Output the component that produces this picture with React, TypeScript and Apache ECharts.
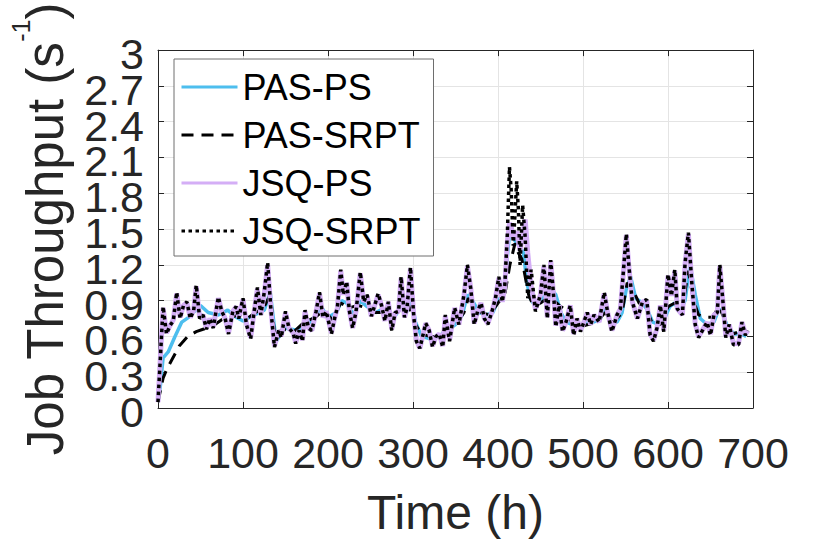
import React, { useEffect, useRef } from 'react';
import * as echarts from 'echarts';

const FONT = '"Liberation Sans", Arial, Helvetica, sans-serif';

// JSQ series (shared time base, hours)
const jsqTime = [
  0, 3, 6, 10, 14, 18, 22, 26, 30, 34,
  38, 42, 45, 49, 53, 57, 61, 65, 71, 75,
  79, 83, 88, 92, 95, 100, 104, 109, 112, 117,
  121, 125, 129, 133, 137, 142, 145, 150, 154, 159,
  162, 166, 170, 173, 177, 181, 186, 190, 194, 198,
  204, 208, 211, 215, 218, 222, 225, 229, 233, 238,
  242, 246, 251, 255, 259, 263, 267, 271, 275, 279,
  283, 286, 290, 293, 297, 301, 304, 308, 311, 315,
  319, 323, 327, 331, 335, 338, 343, 349, 354, 360,
  364, 368, 372, 376, 380, 384, 388, 393, 397, 401,
  405, 408, 411, 413.5, 415.5, 418, 422, 424, 426, 429,
  432, 435, 439, 444, 450, 454, 458, 462, 466, 468,
  472, 476, 480, 485, 489, 493, 497, 500, 505, 509,
  513, 519, 525, 529, 534, 540, 544, 548, 551, 554,
  558, 564, 570, 575, 579, 583, 587, 591, 595, 600,
  604, 608, 611, 617, 620, 624, 628, 632, 636, 642,
  646, 650, 654, 658, 661, 665, 668, 672, 677, 683,
  687, 691, 694,
];

const jsqSrpt = [
  0.05, 0.45, 0.85, 0.62, 0.69, 0.73, 0.97, 0.75, 0.86, 0.89,
  0.75, 0.82, 1.03, 0.75, 0.78, 0.66, 0.75, 0.67, 0.93, 0.81,
  0.75, 0.62, 0.81, 0.85, 0.75, 0.92, 0.70, 0.58, 0.75, 1.01,
  0.78, 0.97, 1.22, 0.81, 0.51, 0.65, 0.59, 0.81, 0.67, 0.63,
  0.54, 0.65, 0.56, 0.82, 0.67, 0.65, 0.81, 0.97, 0.76, 0.81,
  0.62, 0.76, 0.84, 1.16, 0.95, 1.06, 0.82, 0.67, 0.81, 1.14,
  0.89, 0.95, 0.77, 0.86, 0.96, 0.86, 0.73, 0.89, 0.65, 0.80,
  0.81, 1.10, 0.76, 0.84, 1.18, 0.76, 0.56, 0.50, 0.59, 0.71,
  0.65, 0.51, 0.60, 0.62, 0.51, 0.78, 0.56, 0.84, 0.70, 0.95,
  1.20, 1.00, 0.70, 0.81, 0.88, 0.75, 0.70, 0.81, 0.92, 1.10,
  0.89, 1.03, 1.46, 2.02, 1.83, 1.36, 1.90, 1.66, 1.20, 1.70,
  1.43, 0.92, 1.16, 0.81, 0.95, 1.20, 0.75, 1.24, 0.89, 0.68,
  0.86, 0.64, 0.72, 0.86, 0.61, 0.75, 0.64, 0.70, 0.80, 0.70,
  0.78, 0.72, 0.97, 0.80, 0.64, 0.78, 0.83, 1.19, 1.46, 1.19,
  0.89, 0.75, 0.89, 0.91, 0.61, 0.56, 0.67, 0.86, 0.64, 1.12,
  0.94, 1.16, 0.83, 0.78, 1.21, 1.47, 1.05, 0.70, 0.59, 0.67,
  0.72, 0.61, 0.78, 0.80, 1.20, 0.86, 0.59, 0.70, 0.53, 0.53,
  0.72, 0.61, 0.65,
];

const jsqPs = [
  0.05, 0.45, 0.84, 0.63, 0.69, 0.74, 0.96, 0.76, 0.86, 0.88,
  0.76, 0.82, 1.02, 0.76, 0.78, 0.67, 0.75, 0.68, 0.92, 0.81,
  0.75, 0.63, 0.81, 0.85, 0.76, 0.91, 0.71, 0.59, 0.75, 1.00,
  0.78, 0.96, 1.20, 0.81, 0.52, 0.65, 0.60, 0.80, 0.67, 0.63,
  0.55, 0.65, 0.57, 0.81, 0.67, 0.65, 0.81, 0.96, 0.76, 0.81,
  0.63, 0.76, 0.84, 1.15, 0.95, 1.05, 0.82, 0.67, 0.81, 1.13,
  0.89, 0.94, 0.77, 0.86, 0.95, 0.86, 0.73, 0.89, 0.66, 0.80,
  0.81, 1.09, 0.76, 0.84, 1.17, 0.76, 0.57, 0.50, 0.59, 0.71,
  0.65, 0.52, 0.60, 0.62, 0.52, 0.77, 0.57, 0.84, 0.70, 0.94,
  1.19, 1.00, 0.71, 0.81, 0.88, 0.75, 0.71, 0.81, 0.92, 1.09,
  0.89, 1.02, 1.40, 1.55, 1.52, 1.42, 1.48, 1.40, 1.32, 1.45,
  1.58, 1.30, 1.02, 0.83, 0.95, 1.19, 0.76, 1.23, 0.89, 0.69,
  0.86, 0.65, 0.72, 0.86, 0.62, 0.75, 0.65, 0.70, 0.80, 0.70,
  0.78, 0.72, 0.96, 0.80, 0.65, 0.78, 0.83, 1.18, 1.45, 1.18,
  0.89, 0.75, 0.89, 0.90, 0.62, 0.57, 0.67, 0.86, 0.65, 1.11,
  0.94, 1.15, 0.83, 0.78, 1.20, 1.46, 1.05, 0.71, 0.60, 0.67,
  0.72, 0.62, 0.78, 0.80, 1.19, 0.86, 0.60, 0.70, 0.54, 0.54,
  0.72, 0.62, 0.65,
];

// PAS-PS
const pasPsTime = [
  0, 3, 6, 12, 20, 28, 36, 43, 50, 59,
  71, 82, 90, 100, 110, 125, 132, 139, 149, 165,
  176, 186, 192, 200, 210, 216, 222, 230, 238, 246,
  256, 262, 270, 278, 286, 292, 298, 303, 310, 320,
  330, 340, 350, 358, 364, 370, 378, 386, 394, 400,
  406, 410, 414, 420, 426, 430, 434, 438, 444, 450,
  456, 462, 468, 474, 480, 488, 496, 504, 512, 520,
  526, 532, 540, 546, 551, 556, 562, 570, 576, 582,
  590, 596, 602, 608, 614, 620, 626, 632, 638, 646,
  654, 660, 664, 670, 678, 686, 692,
];
const pasPs = [
  0.05, 0.20, 0.42, 0.47, 0.60, 0.72, 0.76, 0.81, 0.86, 0.80,
  0.78, 0.82, 0.77, 0.73, 0.77, 0.82, 0.97, 0.56, 0.67, 0.65,
  0.70, 0.78, 0.85, 0.76, 0.80, 0.90, 0.88, 0.78, 0.90, 0.85,
  0.80, 0.82, 0.78, 0.76, 0.85, 0.80, 0.92, 0.72, 0.60, 0.58,
  0.60, 0.65, 0.70, 0.78, 0.95, 0.90, 0.80, 0.78, 0.80, 0.90,
  0.95, 1.20, 1.49, 1.40, 1.35, 1.30, 1.05, 0.92, 0.85, 0.90,
  0.95, 1.00, 0.95, 0.80, 0.72, 0.70, 0.68, 0.72, 0.72, 0.74,
  0.85, 0.72, 0.72, 0.80, 1.00, 1.10, 0.92, 0.88, 0.82, 0.72,
  0.70, 0.75, 0.85, 0.88, 0.80, 0.90, 1.20, 0.95, 0.75, 0.70,
  0.72, 0.83, 0.80, 0.68, 0.62, 0.62, 0.60,
];

// PAS-SRPT
const pasSrptTime = [
  0, 3, 6, 10, 16, 25, 35, 45, 53, 63,
  75, 85, 95, 105, 115, 125, 132, 138, 148, 160,
  172, 185, 195, 205, 215, 225, 235, 245, 255, 265,
  275, 285, 295, 303, 310, 320, 330, 340, 350, 360,
  365, 372, 380, 390, 400, 408, 414, 420, 424, 428,
  432, 436, 442, 450, 458, 466, 472, 480, 488, 496,
  506, 516, 526, 536, 546, 552, 558, 566, 574, 582,
  592, 600, 608, 616, 624, 630, 636, 644, 652, 660,
  668, 676, 684, 692,
];
const pasSrpt = [
  0.05, 0.15, 0.25, 0.32, 0.40, 0.52, 0.60, 0.64, 0.66, 0.68,
  0.74, 0.76, 0.78, 0.75, 0.80, 0.85, 0.95, 0.58, 0.66, 0.64,
  0.72, 0.76, 0.82, 0.74, 0.88, 0.84, 0.86, 0.84, 0.80, 0.80,
  0.76, 0.84, 0.86, 0.70, 0.62, 0.60, 0.60, 0.66, 0.70, 0.80,
  0.92, 0.86, 0.80, 0.78, 0.88, 0.95, 1.20, 1.38, 1.30, 1.25,
  1.10, 0.95, 0.85, 0.88, 0.92, 0.90, 0.86, 0.82, 0.70, 0.68,
  0.70, 0.72, 0.80, 0.72, 0.80, 1.05, 1.00, 0.88, 0.84, 0.70,
  0.70, 0.85, 0.88, 0.80, 1.15, 0.90, 0.78, 0.76, 0.76, 0.85,
  0.72, 0.62, 0.64, 0.62,
];

const seriesNames = ['PAS-PS', 'PAS-SRPT', 'JSQ-PS', 'JSQ-SRPT'];
const Y_STEP = 0.3;

const pairs = (t: number[], v: number[]) => t.map((x, i) => [x, v[i]]);
const fmtY = (v: number) => String(Math.round(v * 10) / 10);
// Labels are split across two overlaid left axes so none gets auto-hidden.
const fmtEven = (v: number) => (Math.round(v / Y_STEP) % 2 === 0 ? fmtY(v) : '');
const fmtOdd = (v: number) => (Math.round(v / Y_STEP) % 2 === 1 ? fmtY(v) : '');

const AXIS_COLOR = '#262626';
const GRID_COLOR = '#e4e4e4';

export default function App() {
  const ref = useRef<HTMLDivElement>(null);
  useEffect(() => {
    if (!ref.current) return;
    const chart = echarts.init(ref.current, undefined, { renderer: 'svg' });
    const tickCommon = { show: true, inside: true, length: 6, lineStyle: { color: AXIS_COLOR, width: 1 } };
    const lineCommon = { show: true, onZero: false, lineStyle: { color: AXIS_COLOR, width: 1 } };
    const yLabelCommon = {
      fontSize: 43, lineHeight: 8, verticalAlign: 'top', color: AXIS_COLOR, margin: 14, fontFamily: FONT,
      showMinLabel: true, showMaxLabel: true, hideOverlap: false,
    };
    chart.setOption({
      animation: false,
      backgroundColor: '#ffffff',
      grid: { left: 156, top: 41, right: 77, bottom: 132 },
      legend: {
        data: seriesNames,
        orient: 'vertical',
        left: 174,
        top: 59,
        padding: [10, 13, 7, 6],
        itemWidth: 56,
        itemHeight: 14,
        itemGap: 12,
        itemStyle: { opacity: 0 },
        lineStyle: { width: 3 },
        backgroundColor: '#ffffff',
        borderColor: '#6e6e6e',
        borderWidth: 1,
        borderRadius: 0,
        textStyle: { fontSize: 36, lineHeight: 36, color: '#000000', fontFamily: FONT },
      },
      xAxis: [
        {
          type: 'value', min: 0, max: 700, interval: 100, position: 'bottom',
          name: 'Time (h)', nameLocation: 'middle', nameGap: 80,
          nameTextStyle: { fontSize: 48, color: AXIS_COLOR, fontFamily: FONT },
          axisLine: lineCommon, axisTick: tickCommon,
          axisLabel: {
            fontSize: 43, color: AXIS_COLOR, margin: 23, fontFamily: FONT,
            showMinLabel: true, showMaxLabel: true, hideOverlap: false,
          },
          splitLine: { show: true, lineStyle: { color: GRID_COLOR, width: 1 } },
        },
        {
          type: 'value', min: 0, max: 700, interval: 100, position: 'top',
          axisLine: lineCommon, axisTick: tickCommon,
          axisLabel: { show: false }, splitLine: { show: false },
        },
      ],
      yAxis: [
        {
          type: 'value', min: 0, max: 3, interval: Y_STEP, position: 'left',
          name: '{a|Job Throughput (s}{b|-1}{a|)}', nameLocation: 'middle', nameGap: 87, nameRotate: 90,
          nameTextStyle: {
            fontSize: 51, color: AXIS_COLOR, fontFamily: FONT,
            rich: {
              a: { fontSize: 51, lineHeight: 51, color: AXIS_COLOR, fontFamily: FONT, verticalAlign: 'bottom' },
              b: { fontSize: 25, lineHeight: 25, color: AXIS_COLOR, fontFamily: FONT, verticalAlign: 'bottom', padding: [0, 0, 38, 0] },
            },
          },
          axisLine: lineCommon, axisTick: tickCommon,
          axisLabel: { ...yLabelCommon, formatter: fmtEven },
          splitLine: { show: true, lineStyle: { color: GRID_COLOR, width: 1 } },
        },
        {
          type: 'value', min: 0, max: 3, interval: Y_STEP, position: 'right',
          axisLine: lineCommon, axisTick: tickCommon,
          axisLabel: { show: false }, splitLine: { show: false },
        },
        {
          type: 'value', min: 0, max: 3, interval: Y_STEP, position: 'left',
          axisLine: { show: false, onZero: false }, axisTick: { show: false },
          axisLabel: { ...yLabelCommon, formatter: fmtOdd },
          splitLine: { show: false },
        },
      ],
      series: [
        {
          name: seriesNames[0], type: 'line', symbol: 'none', data: pairs(pasPsTime, pasPs),
          lineStyle: { color: '#4DBEEE', width: 3.5 }, itemStyle: { color: '#4DBEEE' },
        },
        {
          name: seriesNames[1], type: 'line', symbol: 'none', data: pairs(pasSrptTime, pasSrpt),
          lineStyle: { color: '#000000', width: 3, type: [12, 8] }, itemStyle: { color: '#000000' },
        },
        {
          name: seriesNames[2], type: 'line', symbol: 'none', data: pairs(jsqTime, jsqPs),
          lineStyle: { color: '#D4AEF6', width: 5 }, itemStyle: { color: '#D4AEF6' },
        },
        {
          name: seriesNames[3], type: 'line', symbol: 'none', data: pairs(jsqTime, jsqSrpt),
          lineStyle: { color: '#000000', width: 3.5, type: [3.5, 3.5] }, itemStyle: { color: '#000000' },
        },
      ],
    });
    return () => chart.dispose();
  }, []);
  return (
    <div
      ref={ref}
      style={{ position: 'fixed', left: 0, top: 0, width: 830, height: 541, background: '#fff' }}
    />
  );
}
